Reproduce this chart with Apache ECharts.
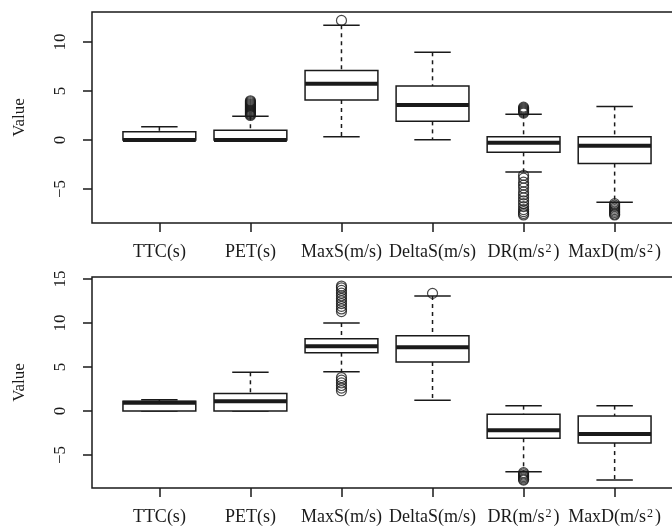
<!DOCTYPE html>
<html>
<head>
<meta charset="utf-8">
<script src="https://cdn.jsdelivr.net/npm/echarts@6/dist/echarts.min.js"></script>
<style>html,body{margin:0;padding:0;background:#fff}#c{width:672px;height:527px}</style>
</head>
<body>
<div id="c"></div>
<script>
// ---- data ----
const categories = ['TTC(s)', 'PET(s)', 'MaxS(m/s)', 'DeltaS(m/s)', 'DR(m/s²)', 'MaxD(m/s²)'];
const yTicksTop = [-5, 0, 5, 10];
const yTicksBottom = [-5, 0, 5, 10, 15];
const yRangeTop = [-8.47, 13.06];
const yRangeBottom = [-8.75, 15.23];

// [lower whisker, Q1, median, Q3, upper whisker] per category
const topBoxes = [
  [0, 0, 0, 0.85, 1.35],
  [0, 0, 0, 1.0, 2.42],
  [0.34, 4.08, 5.75, 7.1, 11.7],
  [0.03, 1.9, 3.57, 5.5, 8.95],
  [-3.27, -1.26, -0.27, 0.34, 2.62],
  [-6.36, -2.41, -0.58, 0.34, 3.43]
];
const bottomBoxes = [
  [0, 0, 0.93, 1.1, 1.29],
  [0, 0, 1.1, 2.0, 4.4],
  [4.47, 6.63, 7.35, 8.22, 10.0],
  [1.21, 5.57, 7.24, 8.56, 13.07],
  [-6.9, -3.1, -2.2, -0.38, 0.61],
  [-7.84, -3.64, -2.61, -0.57, 0.61]
];

// outliers per category
const topOutliers = [
  [],
  [2.5, 2.6, 2.7, 2.8, 2.9, 3.0, 3.1, 3.2, 3.3, 3.4, 3.5, 3.6, 3.7, 3.8, 3.9, 4.0],
  [12.2],
  [],
  [2.75, 2.85, 2.95, 3.05, 3.15, 3.25, 3.35, -3.6, -3.9, -4.3, -4.6, -4.9, -5.3, -5.6, -5.9, -6.2, -6.5, -6.8, -7.1, -7.3, -7.5, -7.65],
  [-6.5, -6.65, -6.8, -6.95, -7.1, -7.25, -7.4, -7.55, -7.65]
];
const bottomOutliers = [
  [],
  [],
  [11.3, 11.6, 11.9, 12.2, 12.5, 12.8, 13.1, 13.4, 13.7, 14.0, 14.2, 2.3, 2.6, 2.9, 3.2, 3.5, 3.8],
  [13.37],
  [-7.0, -7.15, -7.3, -7.45, -7.6, -7.75, -7.85],
  []
];

// ---- chart ----
const FONT = '"Liberation Serif", "DejaVu Serif", serif';
const INK = '#1a1a1a';
const positions = categories.map((_, i) => i + 1);

function boxData(boxes) {
  return boxes.map((b, i) => [i + 1].concat(b));
}
function outData(outs) {
  const res = [];
  outs.forEach((arr, i) => arr.forEach(v => res.push([i + 1, v])));
  return res;
}
function minusFmt(v) { return String(v).replace('-', '\u2212'); }

function renderBox(params, api) {
  const x = api.value(0);
  const pLo = api.coord([x, api.value(1)]);
  const pQ1 = api.coord([x, api.value(2)]);
  const pMed = api.coord([x, api.value(3)]);
  const pQ3 = api.coord([x, api.value(4)]);
  const pHi = api.coord([x, api.value(5)]);
  const half = api.size([0.8, 0])[0] / 2;
  const cap = half / 2;
  const cx = pMed[0];
  const dash = { stroke: INK, lineWidth: 1.5, lineDash: [4, 4], fill: null };
  const solid = { stroke: INK, lineWidth: 1.5, fill: null };
  return {
    type: 'group',
    children: [
      { type: 'line', shape: { x1: cx, y1: pHi[1], x2: cx, y2: pQ3[1] }, style: dash },
      { type: 'line', shape: { x1: cx, y1: pQ1[1], x2: cx, y2: pLo[1] }, style: dash },
      { type: 'line', shape: { x1: cx - cap, y1: pHi[1], x2: cx + cap, y2: pHi[1] }, style: solid },
      { type: 'line', shape: { x1: cx - cap, y1: pLo[1], x2: cx + cap, y2: pLo[1] }, style: solid },
      { type: 'rect', shape: { x: cx - half, y: pQ3[1], width: 2 * half, height: pQ1[1] - pQ3[1] },
        style: { fill: '#fff', stroke: INK, lineWidth: 1.5 } },
      { type: 'line', shape: { x1: cx - half, y1: pMed[1], x2: cx + half, y2: pMed[1] },
        style: { stroke: INK, lineWidth: 4 } }
    ]
  };
}

function xAxis(gridIndex) {
  return {
    type: 'value', gridIndex, min: 0.26, max: 6.74, position: 'bottom',
    axisLine: { show: false, onZero: false },
    splitLine: { show: false },
    axisTick: { show: true, customValues: positions, length: 9, inside: false,
      lineStyle: { color: INK, width: 1.5 } },
    axisLabel: {
      customValues: positions, margin: 20, color: INK, fontFamily: FONT, fontSize: 18,
      formatter: v => categories[Math.round(v) - 1].replace('²', '{sup|2}'),
      rich: { sup: { fontFamily: FONT, fontSize: 12, color: INK, verticalAlign: 'top', lineHeight: 8, padding: [0, 2, 0, 1] } }
    }
  };
}
function yAxis(gridIndex, range, ticks) {
  return {
    type: 'value', gridIndex, min: range[0], max: range[1],
    name: 'Value', nameLocation: 'middle', nameGap: 64, nameRotate: 90,
    nameTextStyle: { fontFamily: FONT, fontSize: 17, color: INK },
    axisLine: { show: false, onZero: false },
    splitLine: { show: false },
    axisTick: { show: true, customValues: ticks, length: 9, lineStyle: { color: INK, width: 1.5 } },
    axisLabel: { customValues: ticks, rotate: 90, margin: 23, color: INK, fontFamily: FONT, fontSize: 17,
      formatter: minusFmt }
  };
}
function scatter(idx, outs) {
  return {
    type: 'scatter', xAxisIndex: idx, yAxisIndex: idx, data: outData(outs),
    symbol: 'circle', symbolSize: 10, silent: true,
    itemStyle: { color: 'rgba(0,0,0,0)', borderColor: INK, borderWidth: 1.2 }
  };
}

const chart = echarts.init(document.getElementById('c'), null, { renderer: 'canvas' });
chart.setOption({
  animation: false,
  backgroundColor: '#fff',
  grid: [
    { left: 92, top: 12, width: 590, height: 211, show: true, borderColor: INK, borderWidth: 1.5,
      backgroundColor: 'transparent', containLabel: false, outerBoundsMode: 'none' },
    { left: 92, top: 277, width: 590, height: 211, show: true, borderColor: INK, borderWidth: 1.5,
      backgroundColor: 'transparent', containLabel: false, outerBoundsMode: 'none' }
  ],
  xAxis: [xAxis(0), xAxis(1)],
  yAxis: [yAxis(0, yRangeTop, yTicksTop), yAxis(1, yRangeBottom, yTicksBottom)],
  series: [
    { type: 'custom', xAxisIndex: 0, yAxisIndex: 0, data: boxData(topBoxes), renderItem: renderBox,
      encode: { x: 0, y: [1, 2, 3, 4, 5] }, clip: false },
    { type: 'custom', xAxisIndex: 1, yAxisIndex: 1, data: boxData(bottomBoxes), renderItem: renderBox,
      encode: { x: 0, y: [1, 2, 3, 4, 5] }, clip: false },
    scatter(0, topOutliers),
    scatter(1, bottomOutliers)
  ]
});
</script>
</body>
</html>
